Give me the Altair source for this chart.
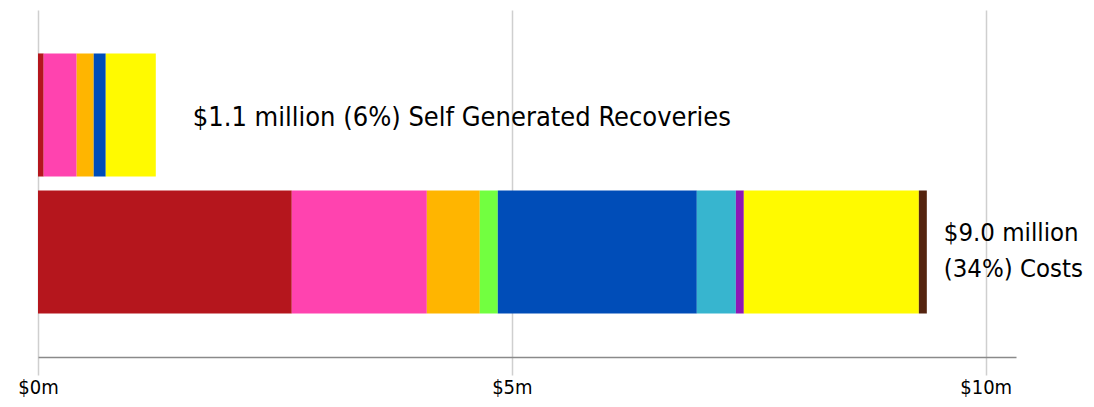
import altair as alt
import pandas as pd

bars = ["Self Generated Recoveries", "Costs"]
categories = ["Cat A", "Cat B", "Cat C", "Cat D", "Cat E", "Cat F", "Cat G", "Cat H", "Cat I"]
colors = ["#B5161D", "#FF43AF", "#FFB500", "#72FF40", "#004DB8", "#37B5CF", "#8E18B5", "#FFFA00", "#55240F"]
recoveries = [0.06, 0.348, 0.18, 0.0, 0.127, 0.0, 0.0, 0.528, 0.0]
costs = [2.678, 1.425, 0.559, 0.19, 2.10, 0.412, 0.084, 1.847, 0.084]
label_recoveries = "$1.1 million (6%) Self Generated Recoveries"
label_costs = ["$9.0 million", "(34%) Costs"]
tick_values = [0, 5, 10]

rows = []
for i, c in enumerate(categories):
    rows.append({"bar": bars[0], "cat": c, "order": i, "value": recoveries[i]})
    rows.append({"bar": bars[1], "cat": c, "order": i, "value": costs[i]})
df = pd.DataFrame(rows)

lab1 = pd.DataFrame({"bar": [bars[0]], "total": [sum(recoveries)], "text": [label_recoveries]})
lab2 = pd.DataFrame({"bar": [bars[1], bars[1]], "total": [sum(costs)] * 2,
                     "text": label_costs, "line": [0, 1]})

FONT = "DejaVu Sans Condensed, Roboto, sans-serif"
xscale = alt.Scale(domain=[0, 10.32], nice=False, zero=True)
yscale = alt.Scale(domain=bars, paddingInner=0.102, paddingOuter=0.317)

base = alt.Chart(df).mark_bar().encode(
    x=alt.X("value:Q", scale=xscale, stack="zero",
            axis=alt.Axis(values=tick_values, labelExpr="'$' + datum.value + 'm'",
                          title=None, grid=True, gridColor="#cfcfcf", gridWidth=1.5,
                          domainColor="#8a8a8a", domainWidth=1.5,
                          tickColor="#cfcfcf", tickWidth=1.5, tickSize=18,
                          labelFlush=False,
                          labelFont=FONT, labelFontSize=20, labelColor="#000",
                          labelPadding=2)),
    y=alt.Y("bar:N", scale=yscale, axis=None),
    color=alt.Color("cat:N", scale=alt.Scale(domain=categories, range=colors), legend=None),
    order=alt.Order("order:Q"),
)

text1 = alt.Chart(lab1).mark_text(
    align="left", baseline="middle", font=FONT, fontSize=27, color="#000", dx=37, dy=3
).encode(
    x=alt.X("total:Q", scale=xscale),
    y=alt.Y("bar:N", scale=yscale),
    text="text:N",
)
text2a = alt.Chart(lab2).transform_filter("datum.line == 0").mark_text(
    align="left", baseline="middle", font=FONT, fontSize=25.5, color="#000", dx=17, dy=-19
).encode(
    x=alt.X("total:Q", scale=xscale),
    y=alt.Y("bar:N", scale=yscale),
    text="text:N",
)
text2b = alt.Chart(lab2).transform_filter("datum.line == 1").mark_text(
    align="left", baseline="middle", font=FONT, fontSize=25.5, color="#000", dx=17, dy=17
).encode(
    x=alt.X("total:Q", scale=xscale),
    y=alt.Y("bar:N", scale=yscale),
    text="text:N",
)

chart = alt.layer(base, text1, text2a, text2b).properties(
    width=978, height=347,
    autosize=alt.AutoSizeParams(type="none"),
    padding={"left": 30, "top": 2, "right": 70, "bottom": 42},
).configure_view(stroke=None)

chart.save("out.html", embed_options={"renderer": "svg", "actions": False})
